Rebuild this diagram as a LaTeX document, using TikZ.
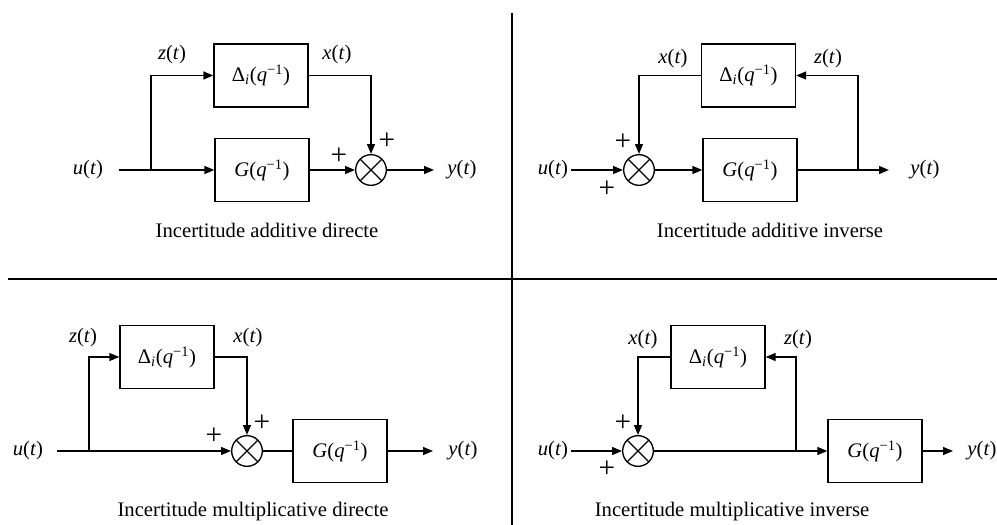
\documentclass[tikz,border=0pt]{standalone}
\usepackage{fontspec}
\setmainfont{Liberation Serif}
\usepackage{tikz}
\usetikzlibrary{arrows.meta}
\newcommand{\sig}[1]{\textit{#1}(\textit{t})}
\newcommand{\blkD}{Δ\textsubscript{\textit{i}}(\textit{q}\textsuperscript{−1})}
\newcommand{\blkG}{\textit{G}(\textit{q}\textsuperscript{−1})}
\begin{document}
\begin{tikzpicture}[x=0.75pt,y=-0.75pt,font=\fontsize{15.5}{18}\selectfont,
  b/.style={draw,line width=1pt,minimum width=70.5pt,minimum height=47.25pt,inner sep=0pt},
  m/.style={draw,circle,line width=1pt,minimum size=23pt,inner sep=0pt,
    path picture={\draw[line width=1pt](path picture bounding box.south west)--(path picture bounding box.north east)
      (path picture bounding box.north west)--(path picture bounding box.south east);}},
  a/.style={-{Triangle[length=7.5pt,width=6pt]},line width=1pt},
  l/.style={line width=1pt},
  t/.style={inner sep=2pt},
  p/.style={inner sep=0pt,font=\fontsize{22}{22}\selectfont}
]
\useasboundingbox (0,0) rectangle (997,525);
\draw[l] (512,13) -- (512,525);
\draw[l] (8,279) -- (997,279);
% additive directe
\node[t] (u1) at (88,170) {\sig{u}};
\coordinate (i1) at (119,170);
\coordinate (j1) at (151,170);
\node[b] (d1) at (261,75.5) {\blkD};
\node[b] (g1) at (262,170) {\blkG};
\node[m] (s1) at (371,170) {};
\coordinate (o1) at (434,170);
\node[t] (y1) at (462,170) {\sig{y}};
\node[t] (z1) at (172,55) {\sig{z}};
\node[t] (x1) at (337,55) {\sig{x}};
\node[p] (p1a) at (339,156) {+};
\node[p] (p1b) at (387,141) {+};
\node (c1) at (267,230) {Incertitude additive directe};
\draw[l](i1)--(j1);\draw[a](j1)--(g1);\draw[a](j1)|-(d1);
\draw[a](d1)-|(s1);\draw[a](g1)--(s1);\draw[a](s1)--(o1);
% additive inverse
\node[t] (u2) at (553,170) {\sig{u}};
\node[m] (s2) at (639,170) {};
\node[b] (d2) at (748.5,75.5) {\blkD};
\node[b] (g2) at (750,170) {\blkG};
\coordinate (j2) at (858,170);
\coordinate (o2) at (889,170);
\node[t] (y2) at (925,170) {\sig{y}};
\node[t] (x2) at (673,59) {\sig{x}};
\node[t] (z2) at (828,59) {\sig{z}};
\node[p] (p2a) at (623,142) {+};
\node[p] (p2b) at (607,189) {+};
\node (c2) at (770,230) {Incertitude additive inverse};
\draw[a](u2)--(s2);\draw[a](s2)--(g2);\draw[l](g2)--(j2);
\draw[a](j2)--(o2);\draw[a](j2)|-(d2);\draw[a](d2)-|(s2);
% multiplicative directe
\node[t] (u3) at (28,451) {\sig{u}};
\coordinate (i3) at (57,451);
\coordinate (j3) at (89,451);
\node[b] (d3) at (167,357) {\blkD};
\node[m] (s3) at (247,451) {};
\node[b] (g3) at (340,451) {\blkG};
\coordinate (o3) at (433,451);
\node[t] (y3) at (463,451) {\sig{y}};
\node[t] (z3) at (83,338) {\sig{z}};
\node[t] (x3) at (248,338) {\sig{x}};
\node[p] (p3a) at (214,436) {+};
\node[p] (p3b) at (262,423) {+};
\node (c3) at (253,512) {Incertitude multiplicative directe};
\draw[l](i3)--(j3);\draw[a](j3)--(s3);\draw[a](j3)|-(d3);
\draw[a](d3)-|(s3);\draw[l](s3)--(g3);\draw[a](g3)--(o3);
% multiplicative inverse
\node[t] (u4) at (553,451) {\sig{u}};
\node[m] (s4) at (638,451) {};
\node[b] (d4) at (718,357) {\blkD};
\coordinate (j4) at (796,451);
\node[b] (g4) at (875,451) {\blkG};
\coordinate (o4) at (953,451);
\node[t] (y4) at (982,451) {\sig{y}};
\node[t] (x4) at (643,340) {\sig{x}};
\node[t] (z4) at (798,340) {\sig{z}};
\node[p] (p4a) at (623,423) {+};
\node[p] (p4b) at (607,469) {+};
\node (c4) at (732,512) {Incertitude multiplicative inverse};
\draw[a](u4)--(s4);\draw[l](s4)--(j4);\draw[a](j4)--(g4);
\draw[a](j4)|-(d4);\draw[a](d4)-|(s4);\draw[a](g4)--(o4);
\end{tikzpicture}
\end{document}
